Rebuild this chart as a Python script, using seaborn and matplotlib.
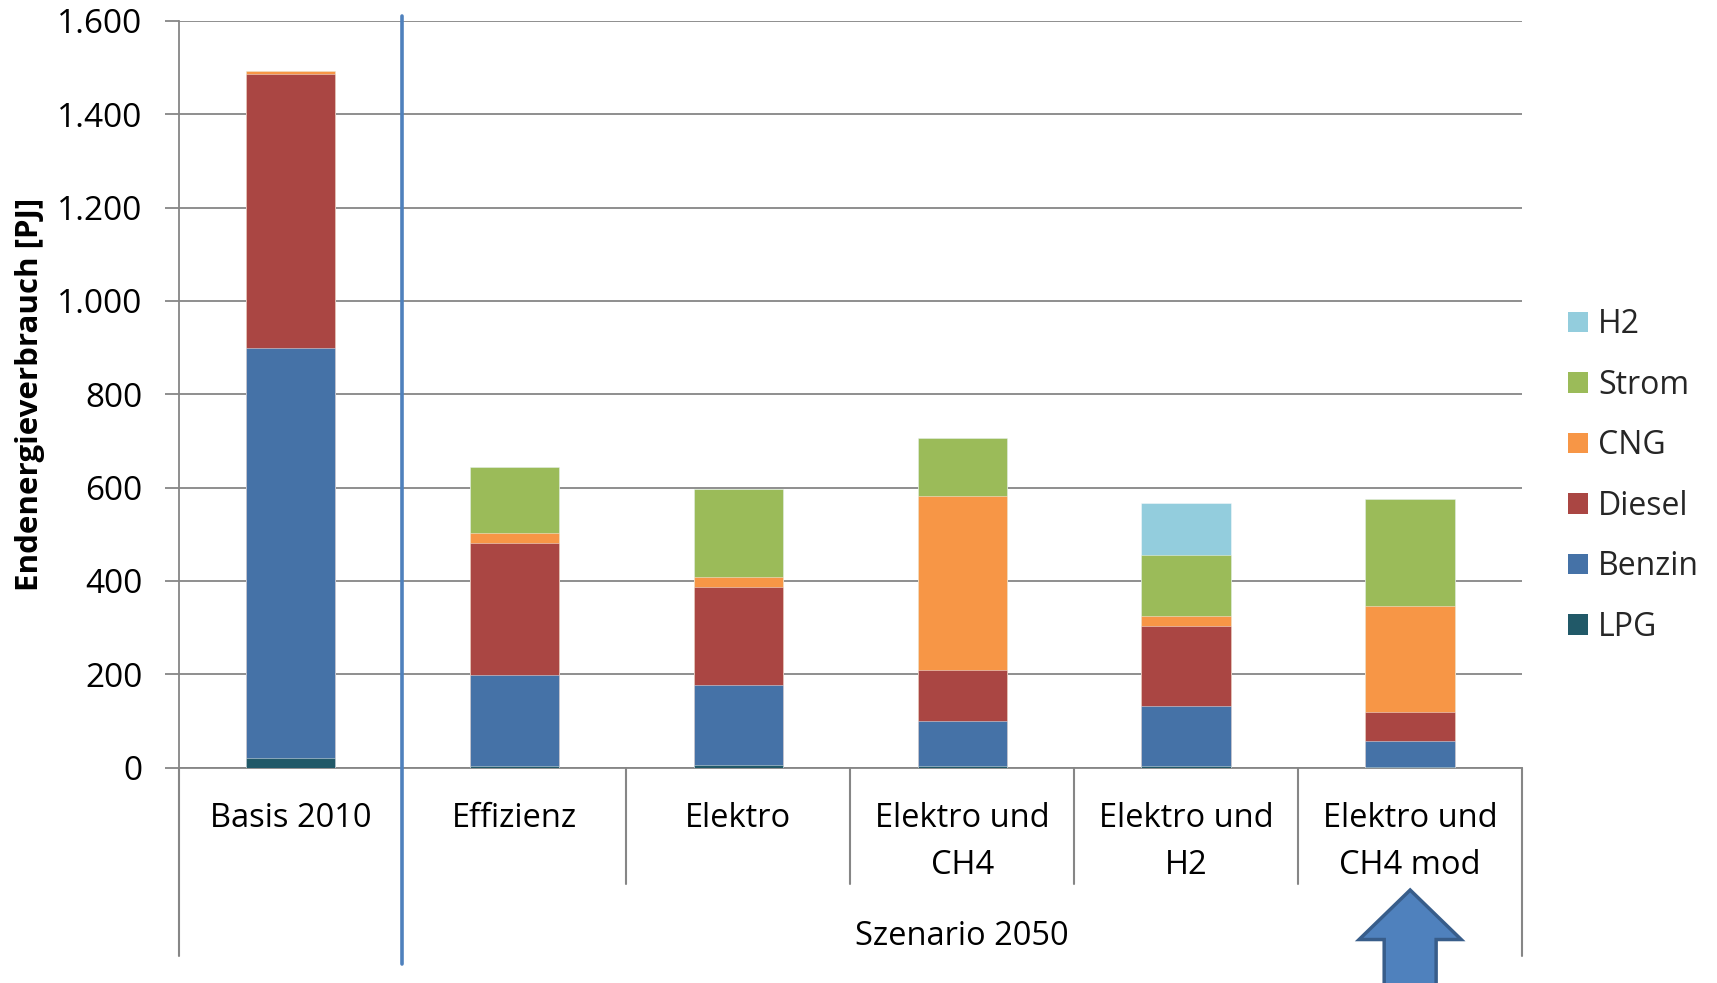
import matplotlib
matplotlib.use("Agg")
import matplotlib.pyplot as plt
import matplotlib.transforms as mtransforms
from matplotlib.patches import Polygon, Patch
import pandas as pd
import seaborn as sns

# Chart data, values in PJ
categories = ["Basis 2010", "Effizienz", "Elektro", "Elektro und\nCH4",
              "Elektro und\nH2", "Elektro und\nCH4 mod"]
group_label = "Szenario 2050"
carriers = ["LPG", "Benzin", "Diesel", "CNG", "Strom", "H2"]
lpg = [20, 3, 6, 3, 4, 1]
benzin = [880, 196, 170, 96, 127, 55]
diesel = [587, 283, 210, 111, 173, 64]
cng = [5, 20, 22, 373, 20, 227]
strom = [0, 142, 188, 123, 132, 229]
h2 = [0, 0, 0, 0, 111, 0]
y_ticks = [0, 200, 400, 600, 800, 1000, 1200, 1400, 1600]

colors = {"LPG": "#215968", "Benzin": "#4572A7", "Diesel": "#AA4643",
          "CNG": "#F79646", "Strom": "#9BBB59", "H2": "#93CDDD"}

sns.set_theme(style="white")
plt.rcParams["font.family"] = ["Open Sans", "DejaVu Sans"]

df = pd.DataFrame({"Szenario": categories, "LPG": lpg, "Benzin": benzin,
                   "Diesel": diesel, "CNG": cng, "Strom": strom, "H2": h2})
cum = df[carriers].cumsum(axis=1)
cum["Szenario"] = df["Szenario"]

fig = plt.figure(figsize=(17.17, 9.83), dpi=100)
ax = fig.add_axes([0.104, 0.2191, 0.7825, 0.7597])

# stacked bars: draw cumulative totals from the top layer down
for name in reversed(carriers):
    sns.barplot(data=cum, x="Szenario", y=name, order=categories,
                color=colors[name], saturation=1, width=0.4, errorbar=None,
                edgecolor=(1, 1, 1, 0.5), linewidth=0.6, ax=ax, zorder=3)

grid_col = "#868686"
ax.set_xlim(-0.5, 5.5)
ax.set_ylim(0, 1600)
ax.set_yticks(y_ticks)
ax.set_yticklabels([f"{v:,}".replace(",", ".") for v in y_ticks], fontsize=24)
ax.set_xticks(range(len(categories)))
ax.set_xticklabels([])
ax.set_xlabel("")
ax.tick_params(axis="x", length=0)
ax.tick_params(axis="y", direction="out", length=10, width=1.3, color=grid_col,
               pad=16, labelcolor="black", left=True)
ax.yaxis.grid(True, color=grid_col, linewidth=1.3)
ax.set_axisbelow(True)
for s in ["top", "right"]:
    ax.spines[s].set_visible(False)
for s in ["left", "bottom"]:
    ax.spines[s].set_color(grid_col)
    ax.spines[s].set_linewidth(1.3)

ax.set_ylabel("Endenergieverbrauch [PJ]", fontsize=22.5, fontweight="bold", color="black")
ax.yaxis.set_label_coords(-0.1108, 0.5)
ax.yaxis.label.set_verticalalignment("center")

# multi-level category axis below the plot
trans = mtransforms.blended_transform_factory(ax.transData, ax.transAxes)
for xb in [1.5, 2.5, 3.5, 4.5]:
    ax.plot([xb, xb], [0, -0.1555], transform=trans, color=grid_col, lw=1.5, clip_on=False)
for xb in [-0.5, 5.5]:
    ax.plot([xb, xb], [0, -0.2523], transform=trans, color=grid_col, lw=1.5, clip_on=False)
ax.plot([0.5, 0.5], [1.0059, -0.2625], transform=trans, color="#4F81BD", lw=2.6,
        clip_on=False, zorder=6)

line_y = [-0.0685, -0.1305]
for i, lab in enumerate(categories):
    for j, part in enumerate(lab.split("\n")):
        ax.text(i, line_y[j], part, transform=trans, ha="center", va="center",
                fontsize=23.5, color="black")
ax.text(3, -0.2255, group_label, transform=trans, ha="center", va="center",
        fontsize=23.5, color="black")

# highlight arrow below the last scenario
ax.add_patch(Polygon([(5 - 0.116, -0.30), (5 - 0.116, -0.2302), (5 - 0.228, -0.2302),
                      (5, -0.1639), (5 + 0.228, -0.2302), (5 + 0.116, -0.2302),
                      (5 + 0.116, -0.30)], closed=True, transform=trans,
                     facecolor="#4F81BD", edgecolor="#385D8A", lw=2.5, clip_on=False))

handles = [Patch(facecolor=colors[c], edgecolor="none", label=c) for c in reversed(carriers)]
ax.legend(handles=handles, loc="center left", bbox_to_anchor=(1.034, 0.3905),
          frameon=False, fontsize=23, handlelength=0.62, handleheight=0.62,
          handletextpad=0.33, labelspacing=0.86, borderaxespad=0, borderpad=0)

fig.savefig("out.png", dpi=100)
